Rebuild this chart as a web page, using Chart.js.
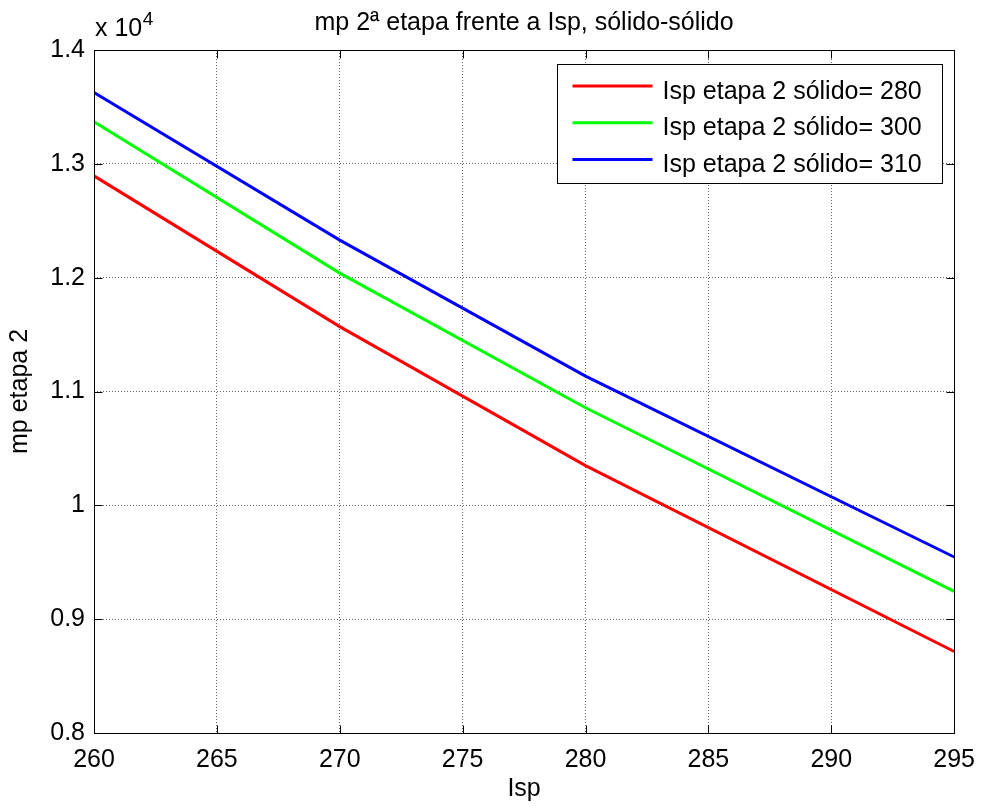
<!DOCTYPE html>
<html>
<head>
<meta charset="utf-8">
<script src="https://cdn.jsdelivr.net/npm/chart.js@4"></script>
<style>
  html, body { margin: 0; padding: 0; background: #fff; }
  canvas { display: block; }
</style>
</head>
<body>
<canvas id="c" width="987" height="808"></canvas>
<script>
// Specific impulse of the stage (s)
const isp = [260, 270, 280, 295];
// Propellant mass of stage 2 for three solid-stage Isp values
const mp280 = [12894, 11570, 10349, 8716];
const mp300 = [13369, 12040, 10857, 9244];
const mp310 = [13627, 12330, 11135, 9546];
const seriesLabels = ['Isp etapa 2 sólido= 280', 'Isp etapa 2 sólido= 300', 'Isp etapa 2 sólido= 310'];
const seriesColors = ['#ff0000', '#00ff00', '#0000ff'];
const xTicks = [260, 265, 270, 275, 280, 285, 290, 295];
const yTicks = [8000, 9000, 10000, 11000, 12000, 13000, 14000];

const FAMILY = '"Liberation Sans", Arial, Helvetica, sans-serif';
const FONT = { family: FAMILY, size: 25, weight: 'normal', lineHeight: 1.2 };

const toPoints = ys => ys.map((v, i) => ({ x: isp[i], y: v }));

// Box, inward ticks on all four sides, exponent note and legend
const axesDecor = {
  id: 'axesDecor',
  afterDatasetsDraw(chart) {
    const { ctx, chartArea: a, scales: { x, y } } = chart;
    const L = Math.round(a.left) + 0.5, R = Math.round(a.right) + 0.5;
    const T = Math.round(a.top) + 0.5, B = Math.round(a.bottom) + 0.5;
    ctx.save();
    ctx.strokeStyle = '#000';
    ctx.lineWidth = 1;
    ctx.strokeRect(L, T, R - L, B - T);

    const tl = 8;
    ctx.beginPath();
    x.ticks.forEach(t => {
      const px = Math.round(x.getPixelForValue(t.value)) + 0.5;
      ctx.moveTo(px, B); ctx.lineTo(px, B - tl);
      ctx.moveTo(px, T); ctx.lineTo(px, T + tl);
    });
    y.ticks.forEach(t => {
      const py = Math.round(y.getPixelForValue(t.value)) + 0.5;
      ctx.moveTo(L, py); ctx.lineTo(L + tl, py);
      ctx.moveTo(R, py); ctx.lineTo(R - tl, py);
    });
    ctx.stroke();

    // scale factor note
    ctx.fillStyle = '#000';
    ctx.textAlign = 'left';
    ctx.textBaseline = 'alphabetic';
    ctx.font = '25px ' + FAMILY;
    ctx.fillText('x 10', a.left + 1, a.top - 14);
    const w = ctx.measureText('x 10').width;
    ctx.font = '19px ' + FAMILY;
    ctx.fillText('4', a.left + 1 + w + 0.5, a.top - 25.5);

    // legend
    const bx = Math.round(a.right - 397) + 0.5, by = Math.round(a.top + 14) + 0.5;
    const bw = 385, bh = 119;
    ctx.fillStyle = '#fff';
    ctx.fillRect(bx, by, bw, bh);
    ctx.strokeStyle = '#000';
    ctx.lineWidth = 1;
    ctx.strokeRect(bx, by, bw, bh);
    ctx.font = '25px ' + FAMILY;
    chart.data.datasets.forEach((ds, i) => {
      const ry = by + 21.5 + i * 36.8;
      ctx.strokeStyle = ds.borderColor;
      ctx.lineWidth = 3;
      ctx.beginPath();
      ctx.moveTo(bx + 15, ry);
      ctx.lineTo(bx + 95, ry);
      ctx.stroke();
      ctx.fillStyle = '#000';
      ctx.fillText(ds.label, bx + 105, ry + 12.5);
    });
    ctx.restore();
  }
};

const gridOpts = { color: 'rgba(0,0,0,0.6)', lineWidth: 1, drawTicks: false, tickLength: 0 };
const borderOpts = { display: false, dash: [1, 2] };

new Chart(document.getElementById('c'), {
  type: 'line',
  data: {
    datasets: [mp280, mp300, mp310].map((ys, i) => ({
      label: seriesLabels[i],
      data: toPoints(ys),
      borderColor: seriesColors[i],
      backgroundColor: seriesColors[i],
      borderWidth: 3,
      pointRadius: 0,
      tension: 0,
      fill: false
    }))
  },
  options: {
    responsive: false,
    animation: false,
    devicePixelRatio: 1,
    layout: { padding: { left: 0, right: 25, top: 0, bottom: 0 } },
    plugins: {
      legend: { display: false },
      tooltip: { enabled: false },
      title: {
        display: true,
        text: 'mp 2ª etapa frente a Isp, sólido-sólido',
        fullSize: false,
        color: '#000',
        font: FONT,
        padding: { top: 8, bottom: 12 }
      }
    },
    scales: {
      x: {
        type: 'linear',
        min: 260,
        max: 295,
        afterBuildTicks: s => { s.ticks = xTicks.map(v => ({ value: v })); },
        afterFit: s => { s.height = 75; },
        ticks: { color: '#000', font: FONT, padding: 12, maxRotation: 0, autoSkip: false, callback: v => String(v) },
        grid: gridOpts,
        border: borderOpts,
        title: { display: true, text: 'Isp', color: '#000', font: FONT, padding: { top: 0, bottom: 4 } }
      },
      y: {
        type: 'linear',
        min: 8000,
        max: 14000,
        afterBuildTicks: s => { s.ticks = yTicks.map(v => ({ value: v })); },
        afterFit: s => { s.width = 94; },
        ticks: { color: '#000', font: FONT, padding: 9, callback: v => String(Math.round(v / 1000) / 10) },
        grid: gridOpts,
        border: borderOpts,
        title: { display: true, text: 'mp etapa 2', color: '#000', font: FONT, padding: { top: 5, bottom: 0 } }
      }
    }
  },
  plugins: [axesDecor]
});
</script>
</body>
</html>
